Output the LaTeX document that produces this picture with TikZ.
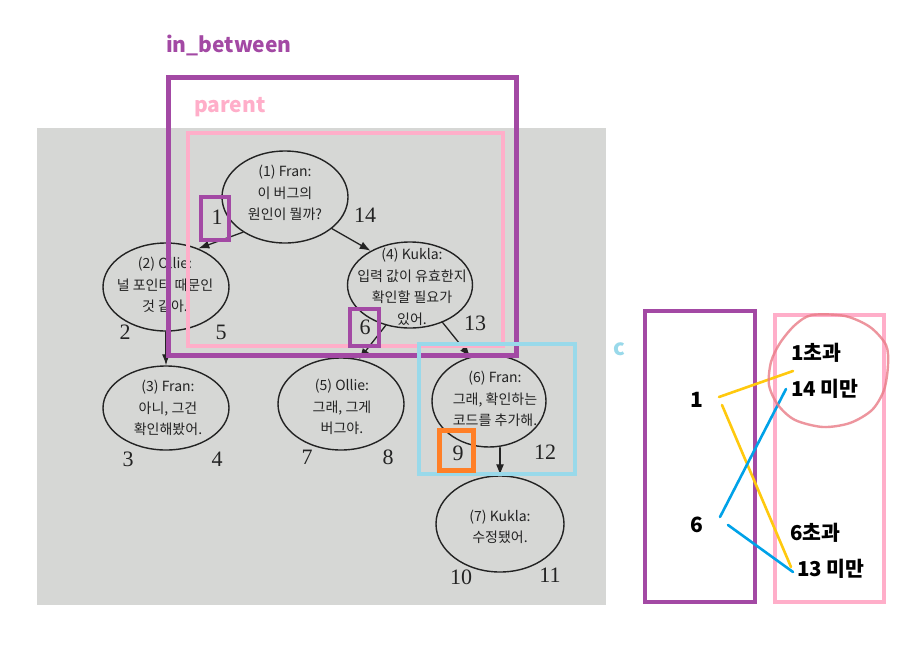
\documentclass[tikz,border=0pt]{standalone}
\usepackage{fontspec}
\setmainfont{Liberation Serif}
\newfontfamily\krfont{Noto Sans CJK KR}
\usetikzlibrary{shapes.geometric, arrows.meta}
\definecolor{paintpurple}{HTML}{A349A4}
\definecolor{paintpink}{HTML}{FFAEC9}
\definecolor{paintsky}{HTML}{99D9EA}
\definecolor{paintorange}{HTML}{FF7F27}
\definecolor{paintgold}{HTML}{FFC90E}
\definecolor{paintblue}{HTML}{00A2E8}
\definecolor{crayonred}{HTML}{E97B86}
\definecolor{photogray}{RGB}{214,215,213}
\definecolor{ink}{RGB}{35,35,35}

\begin{document}
\begin{tikzpicture}[
        x=1pt, y=-1pt,
        line cap=round, line join=round,
        talk/.style={ellipse, draw=ink, line width=1.4pt, inner sep=0pt},
        talktext/.style={font=\krfont\fontsize{14}{21.5}\selectfont, align=center, text=ink, inner sep=0pt},
        nested/.style={font=\fontsize{22}{22}\selectfont, text=ink, inner sep=0pt},
        replyarrow/.style={line width=1.3pt, draw=ink, -{Latex[length=11pt, width=8pt]}},
        hlbox/.style={draw=#1, line width=4pt, line cap=butt, line join=miter},
        hlline/.style={draw=#1, line width=2.6pt},
        tagtext/.style={font=\krfont\bfseries\fontsize{#1}{#1}\selectfont, inner sep=0pt}
    ]
    \fill[white] (0,0) rectangle (921,662);
    \useasboundingbox (0,0) rectangle (921,662);
    \fill[photogray] (37,128) rectangle (606,605);

    \node[talk, minimum width=126pt, minimum height=92pt] (n1) at (285,197) {};
    \node[talk, minimum width=126pt, minimum height=88pt] (n2) at (166,287) {};
    \node[talk, minimum width=126pt, minimum height=84pt] (n3) at (166,408) {};
    \node[talk, minimum width=125pt, minimum height=86pt] (n4) at (410,285) {};
    \node[talk, minimum width=126pt, minimum height=92pt] (n5) at (341,404) {};
    \node[talk, minimum width=114pt, minimum height=92pt] (n6) at (489,401) {};
    \node[talk, minimum width=128pt, minimum height=96pt] (n7) at (500,524) {};

    \node[talktext] (t1) at (285,193) {(1) Fran:\\이 버그의\\원인이 뭘까?};
    \node[talktext] (t2) at (165,285) {(2) Ollie:\\널 포인터 때문인\\것 같아.};
    \node[talktext] (t3) at (168,408) {(3) Fran:\\아니, 그건\\확인해봤어.};
    \node[talktext] (t4) at (412,287) {(4) Kukla:\\입력 값이 유효한지\\확인할 필요가\\있어.};
    \node[talktext] (t5) at (342,407) {(5) Ollie:\\그래, 그게\\버그야.};
    \node[talktext] (t6) at (495,399) {(6) Fran:\\그래, 확인하는\\코드를 추가해.};
    \node[talktext] (t7) at (500,527) {(7) Kukla:\\수정됐어.};

    \draw[replyarrow] (n1.220) -- (n2.50);
    \draw[replyarrow] (n1.326) -- (n4.139);
    \draw[replyarrow] (n2.south) -- (n3.north);
    \draw[replyarrow] (n4.239) -- (n5.68);
    \draw[replyarrow] (n4.311) -- (n6.113);
    \draw[replyarrow] (n7.north |- n6.south) -- (n7.north);

    \node[nested] (num1) at (217,217) {1};
    \node[nested] (num14) at (365,215) {14};
    \node[nested] (num2) at (125,332) {2};
    \node[nested] (num5) at (221,332) {5};
    \node[nested] (num6) at (365,327) {6};
    \node[nested] (num13) at (475,323) {13};
    \node[nested] (num3) at (128,459) {3};
    \node[nested] (num4) at (217,459) {4};
    \node[nested] (num7) at (307,457) {7};
    \node[nested] (num8) at (388,457) {8};
    \node[nested] (num9) at (458,453) {9};
    \node[nested] (num12) at (545,452) {12};
    \node[nested] (num10) at (461,577) {10};
    \node[nested] (num11) at (550,575) {11};

    \draw[hlbox=paintpurple, line width=5pt] (168.5,77.5) rectangle (516,355);
    \draw[hlbox=paintpink] (188,133) rectangle (503,346);
    \draw[hlbox=paintpurple] (201,197) rectangle (229,240);
    \draw[hlbox=paintpurple] (350,309) rectangle (379,346);
    \draw[hlbox=paintsky] (419,344) rectangle (575,474);
    \draw[hlbox=paintorange, line width=5pt] (439.5,430.5) rectangle (473.5,470.5);
    \draw[hlbox=paintpurple] (645,311) rectangle (755,602);
    \draw[hlbox=paintpink, line width=3.5pt] (775,315) rectangle (884,602);

    \node[tagtext=21, text=paintpurple, anchor=base west] (inbetween) at (166,52) {in\_between};
    \node[tagtext=21, text=paintpink, anchor=base west] (parent) at (194,112) {parent};
    \node[tagtext=22, text=paintsky] (clabel) at (619,349) {c};

    \node[tagtext=21] (low1) at (697,400) {1};
    \node[tagtext=21] (low6) at (697,525) {6};
    \node[tagtext=20.5, anchor=west] (over1) at (791,353) {1초과};
    \node[tagtext=20.5, anchor=west] (under14) at (791,389) {14 미만};
    \node[tagtext=20.5, anchor=west] (over6) at (790,533) {6초과};
    \node[tagtext=20.5, anchor=west] (under13) at (797,569) {13 미만};

    \coordinate (ya) at (719,397);
    \coordinate (yb) at (793,371);
    \coordinate (yc) at (722,405);
    \coordinate (yd) at (791,567);
    \coordinate (ba) at (720,517);
    \coordinate (bb) at (786,389);
    \coordinate (bc) at (728,525);
    \coordinate (bd) at (793,572);
    \draw[hlline=paintgold] (ya) -- (yb);
    \draw[hlline=paintgold] (yc) -- (yd);
    \draw[hlline=paintblue] (ba) -- (bb);
    \draw[hlline=paintblue] (bc) -- (bd);

    \draw[crayonred, line width=2.4pt, opacity=0.8] plot[smooth cycle] coordinates {
        (812,315) (845,316) (870,327) (886,345) (888,365) (884,390) (872,410) (850,423)
        (823,427) (795,420) (778,405) (769,385) (771,362) (780,343) (795,325)};
\end{tikzpicture}
\end{document}
